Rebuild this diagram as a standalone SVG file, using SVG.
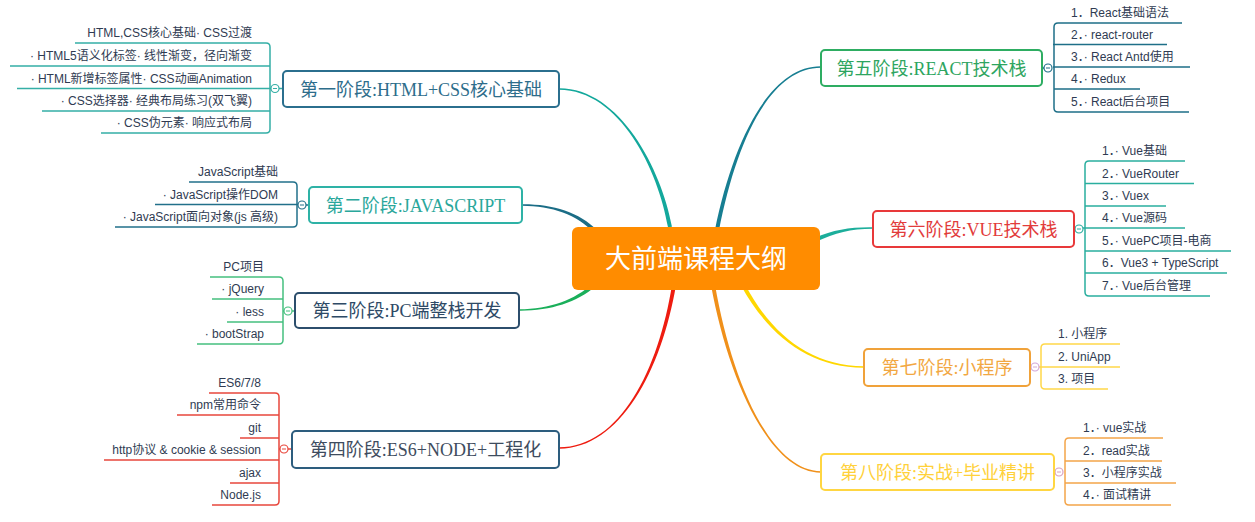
<svg xmlns="http://www.w3.org/2000/svg" width="1255" height="522" viewBox="0 0 1255 522">
<style>
.it{font-family:"Liberation Sans","Noto Sans CJK SC",sans-serif;font-size:12px;fill:#2F3B52}
.st{font-family:"Liberation Serif","Noto Sans CJK SC",serif;font-size:18px;text-anchor:middle}
.bx{fill:#fff;stroke-width:2}
.ln{fill:none;stroke-width:1.5}
.cc{fill:#fff;stroke-width:1.2}
.end{text-anchor:end}
</style>
<rect width="1255" height="522" fill="#fff"/>
<g id="connectors">
<path d="M671.97,226.65 C661.6,169.7 620,88 559,88.3 L559,89.7 C620,90 658.4,170.3 668.03,227.35 Z" fill="#13A89C"/>
<path d="M718.96,230.39 C736.57,140.31 770,68 821,67.7 L821,66.3 C770,66 733.43,139.69 715.04,229.61 Z" fill="#177E92"/>
<path d="M597.45,230.62 C579.16,211.9 552,204 522,204.3 L522,205.7 C552,206 576.84,214.1 594.55,233.38 Z" fill="#1B6D86"/>
<path d="M815.82,241.82 C835.66,232.46 850,229 873,228.7 L873,227.3 C850,227 834.34,229.54 814.18,238.18 Z" fill="#1CAE9B"/>
<path d="M592.67,283.51 C574.94,299.8 550,309 519,309.3 L519,310.7 C550,311 577.06,302.2 595.33,286.49 Z" fill="#1AAF5A"/>
<path d="M672.03,284.68 C658.42,369.74 620,447 559,447.3 L559,448.7 C620,449 661.58,370.26 675.97,285.32 Z" fill="#EE1C10"/>
<path d="M711.03,285.35 C728.43,380.28 770,473 821,472.7 L821,471.3 C770,471 731.57,379.72 714.97,284.65 Z" fill="#F0901A"/>
<path d="M741.24,285.95 C768.59,335.76 810,368 864,367.7 L864,366.3 C810,366 771.41,334.24 744.76,284.05 Z" fill="#FFD700"/>
</g>
<g id="center">
<rect x="572" y="227" width="248" height="63" rx="6" fill="#FF8C00"/>
<text x="696" y="268" font-family="Liberation Serif,'Noto Sans CJK SC',serif" font-size="26" fill="#fff" text-anchor="middle">大前端课程大纲</text>
</g>
<g id="stage1">
<path class="ln" stroke="#35AFA6" d="M75,43 H266 Q270,43 270,47 V129 Q270,133 266,133 H101 M10,66 H270 M17,88.5 H271 M42,111 H270 M279,88.5 H283"/>
<circle class="cc" cx="275" cy="88.5" r="4" stroke="#35AFA6"/><path d="M273,88.5 H277" stroke="#35AFA6" stroke-width="1"/>
<rect class="bx" x="283" y="71" width="276" height="36" rx="4" stroke="#2B6F8E"/>
<text class="st" x="421" y="95.5" fill="#2D6D8B">第一阶段:HTML+CSS核心基础</text>
<text class="it end" x="252" y="37">HTML,CSS核心基础· CSS过渡</text>
<text class="it end" x="252" y="60">· HTML5语义化标签· 线性渐变，径向渐变</text>
<text class="it end" x="252" y="82.5">· HTML新增标签属性· CSS动画Animation</text>
<text class="it end" x="252" y="105">· CSS选择器· 经典布局练习(双飞翼)</text>
<text class="it end" x="252" y="127">· CSS伪元素· 响应式布局</text>
</g>
<g id="stage2">
<path class="ln" stroke="#22708A" d="M189,182 H293 Q297,182 297,186 V223 Q297,227 293,227 H115 M155,204.5 H298 M306,205 H309"/>
<circle class="cc" cx="302" cy="205" r="4" stroke="#22708A"/><path d="M300,205 H304" stroke="#22708A" stroke-width="1"/>
<rect class="bx" x="309" y="187" width="213" height="36" rx="4" stroke="#2EB2A6"/>
<text class="st" x="415.5" y="211.5" fill="#2AA79B">第二阶段:JAVASCRIPT</text>
<text class="it end" x="278" y="176">JavaScript基础</text>
<text class="it end" x="278" y="198.5">· JavaScript操作DOM</text>
<text class="it end" x="278" y="221">· JavaScript面向对象(js 高级)</text>
</g>
<g id="stage3">
<path class="ln" stroke="#45C07F" d="M210,277 H279 Q283,277 283,281 V340 Q283,344 279,344 H197 M212,299 H283 M227,322 H283 M283,311 H284 M292,311 H295"/>
<circle class="cc" cx="288" cy="311" r="4" stroke="#45C07F"/><path d="M286,311 H290" stroke="#45C07F" stroke-width="1"/>
<rect class="bx" x="295" y="293" width="224" height="35" rx="4" stroke="#2C4E6C"/>
<text class="st" x="407" y="317" fill="#2E4A66">第三阶段:PC端整栈开发</text>
<text class="it end" x="264" y="271">PC项目</text>
<text class="it end" x="264" y="293">· jQuery</text>
<text class="it end" x="264" y="316">· less</text>
<text class="it end" x="264" y="338">· bootStrap</text>
</g>
<g id="stage4">
<path class="ln" stroke="#E8473C" d="M209,393 H275 Q279,393 279,397 V501 Q279,505 275,505 H212 M177,415 H279 M240,438 H279 M104,460 H279 M230,483 H279 M279,449 H280 M288,449 H292"/>
<circle class="cc" cx="284" cy="449" r="4" stroke="#E8473C"/><path d="M282,449 H286" stroke="#E8473C" stroke-width="1"/>
<rect class="bx" x="292" y="431" width="267" height="37" rx="4" stroke="#2D5D7E"/>
<text class="st" x="425.5" y="456" fill="#3E4C5E">第四阶段:ES6+NODE+工程化</text>
<text class="it end" x="261" y="387">ES6/7/8</text>
<text class="it end" x="261" y="409">npm常用命令</text>
<text class="it end" x="261" y="432">git</text>
<text class="it end" x="261" y="454">http协议 &amp; cookie &amp; session</text>
<text class="it end" x="261" y="477">ajax</text>
<text class="it end" x="261" y="499">Node.js</text>
</g>
<g id="stage5">
<path class="ln" stroke="#1E6F88" d="M1182,23 H1058 Q1054,23 1054,27 V108 Q1054,112 1058,112 H1189 M1053,44.5 H1167 M1053,67 H1190 M1054,89 H1140 M1042,68 H1044"/>
<circle class="cc" cx="1048" cy="68" r="4" stroke="#1E6F88"/><path d="M1046,68 H1050" stroke="#1E6F88" stroke-width="1"/>
<rect class="bx" x="821" y="50" width="221" height="36" rx="4" stroke="#2EAD62"/>
<text class="st" x="931.5" y="74.5" fill="#2EA560">第五阶段:REACT技术栈</text>
<text class="it" x="1071" y="17">1．React基础语法</text>
<text class="it" x="1071" y="38.5">2．· react-router</text>
<text class="it" x="1071" y="61">3．· React Antd使用</text>
<text class="it" x="1071" y="83">4．· Redux</text>
<text class="it" x="1071" y="106">5．· React后台项目</text>
</g>
<g id="stage6">
<path class="ln" stroke="#2AAE9F" d="M1185,161 H1089 Q1085,161 1085,165 V292 Q1085,296 1089,296 H1210 M1085,183.5 H1194 M1085,206 H1166 M1083,228 H1185 M1085,251 H1231 M1085,273 H1227 M1074,229 H1075"/>
<circle class="cc" cx="1079" cy="229" r="4" stroke="#2AAE9F"/><path d="M1077,229 H1081" stroke="#2AAE9F" stroke-width="1"/>
<rect class="bx" x="873" y="211" width="201" height="36" rx="4" stroke="#E8393A"/>
<text class="st" x="973.5" y="235.5" fill="#E23B3B">第六阶段:VUE技术栈</text>
<text class="it" x="1102" y="155">1．· Vue基础</text>
<text class="it" x="1102" y="177.5">2．· VueRouter</text>
<text class="it" x="1102" y="200">3．· Vuex</text>
<text class="it" x="1102" y="222">4．· Vue源码</text>
<text class="it" x="1102" y="245">5．· VuePC项目-电商</text>
<text class="it" x="1102" y="267">6．Vue3 + TypeScript</text>
<text class="it" x="1102" y="290">7．· Vue后台管理</text>
</g>
<g id="stage7">
<path class="ln" stroke="#FFD84A" d="M1120,344 H1045 Q1041,344 1041,348 V385 Q1041,389 1045,389 H1108 M1039,367 H1120 M1030,367 H1031"/>
<circle class="cc" cx="1035" cy="367" r="4" stroke="#D2A8D8"/><path d="M1033,367 H1037" stroke="#D2A8D8" stroke-width="1"/>
<rect class="bx" x="864" y="349" width="166" height="37" rx="4" stroke="#F0A23A"/>
<text class="st" x="947" y="374" fill="#F2A742">第七阶段:小程序</text>
<text class="it" x="1058" y="338">1. 小程序</text>
<text class="it" x="1058" y="361">2. UniApp</text>
<text class="it" x="1058" y="383">3. 项目</text>
</g>
<g id="stage8">
<path class="ln" stroke="#F4A54A" d="M1163,438 H1069 Q1065,438 1065,442 V501 Q1065,505 1069,505 H1171 M1065,461 H1162 M1065,483 H1176 M1054,472 H1055"/>
<circle class="cc" cx="1059" cy="472" r="4" stroke="#D8A0C0"/><path d="M1057,472 H1061" stroke="#D8A0C0" stroke-width="1"/>
<rect class="bx" x="821" y="454" width="233" height="36" rx="4" stroke="#FFD642"/>
<text class="st" x="937.5" y="478.5" fill="#FFD13A">第八阶段:实战+毕业精讲</text>
<text class="it" x="1083" y="432">1．· vue实战</text>
<text class="it" x="1083" y="455">2．read实战</text>
<text class="it" x="1083" y="477">3．小程序实战</text>
<text class="it" x="1083" y="499">4．· 面试精讲</text>
</g>
</svg>
